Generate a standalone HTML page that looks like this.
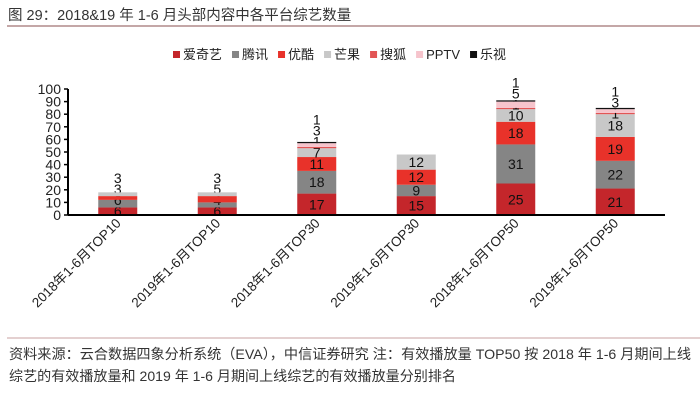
<!DOCTYPE html>
<html><head><meta charset="utf-8"><style>
body{margin:0;width:700px;height:400px;background:#fff;overflow:hidden;font-family:"Liberation Sans","Noto Sans CJK SC",sans-serif}
svg text{font-family:"Liberation Sans","Noto Sans CJK SC",sans-serif}
</style></head><body>
<svg id="c" width="700" height="400">
<text x="8" y="20" font-size="14.5" fill="#333">图 29：2018&amp;19 年 1-6 月头部内容中各平台综艺数量</text>
<line x1="7" y1="26" x2="700" y2="26" stroke="#b08a8a" stroke-width="1.5"/>
<line x1="7" y1="338" x2="700" y2="338" stroke="#c9a0a0" stroke-width="1"/>
<text x="9" y="359" font-size="14" textLength="682" lengthAdjust="spacingAndGlyphs" fill="#333">资料来源：云合数据四象分析系统（EVA），中信证券研究  注：有效播放量 TOP50 按 2018 年 1-6 月期间上线</text>
<text x="9" y="381" font-size="14" textLength="447" lengthAdjust="spacingAndGlyphs" fill="#333">综艺的有效播放量和 2019 年 1-6 月期间上线综艺的有效播放量分别排名</text>
<g id="plot"></g>
</svg>
<script>
const categories=["2018年1-6月TOP10","2019年1-6月TOP10","2018年1-6月TOP30","2019年1-6月TOP30","2018年1-6月TOP50","2019年1-6月TOP50"];
const seriesNames=["爱奇艺","腾讯","优酷","芒果","搜狐","PPTV","乐视"];
const iqiyi=[6,6,17,15,25,21];
const tencent=[6,4,18,9,31,22];
const youku=[3,5,11,12,18,19];
const mango=[3,3,7,12,10,18];
const sohu=[0,0,1,0,1,1];
const pptv=[0,0,3,0,5,3];
const leshi=[0,0,1,0,1,1];
const yTicks=[0,10,20,30,40,50,60,70,80,90,100];
const colors=["#c4262b","#858585","#e8322a","#c8c8c8","#e25555","#f6c4cc","#111"];
const series=[iqiyi,tencent,youku,mango,sohu,pptv,leshi];
const NS="http://www.w3.org/2000/svg";
const g=document.getElementById('plot');
const x0=68,x1=665,yb=215,yt=89;
const y=v=>yb-(v/100)*(yb-yt);
const step=(x1-x0)/categories.length;
const xc=i=>x0+step*(i+0.5);
const bw=39;
function mk(t,a){const e=document.createElementNS(NS,t);for(const k in a)e.setAttribute(k,a[k]);g.appendChild(e);return e;}
let lx=173;
seriesNames.forEach((n,k)=>{
 const r=mk('rect',{x:lx,y:51,width:7,height:7,fill:colors[k]});
 
 
 const t=mk('text',{x:lx+10,y:59,'font-size':13,fill:'#222'});t.textContent=n;
 
 
 lx+=10+t.getComputedTextLength()+10;
});
yTicks.forEach(v=>{
 const l=mk('line',{x1:x0-4,x2:x0,y1:y(v),y2:y(v),stroke:'#000','stroke-width':1.5});
 
 
 const t=mk('text',{x:x0-7,y:y(v)+5,'font-size':14,'text-anchor':'end',fill:'#222'});t.textContent=v;
 
 
});
categories.forEach((c,i)=>{
 let cum=0,lastLabelY=1e9;
 series.forEach((s,k)=>{
  const v=s[i];if(!v)return;
  const top=y(cum+v),bot=y(cum);
  const r=mk('rect',{x:xc(i)-bw/2,y:top,width:bw,height:bot-top,fill:colors[k]});
  
  
  let ly=(top+bot)/2+5;
  if(ly>lastLabelY-11)ly=lastLabelY-11;
  lastLabelY=ly;
  const t=mk('text',{x:xc(i),y:ly,'font-size':14,'text-anchor':'middle',fill:'#111'});t.textContent=v;
  
  
  cum+=v;
 });
 const t=mk('text',{x:0,y:0,'font-size':13.5,'text-anchor':'end',fill:'#222',transform:`translate(${xc(i)+4},${yb+9}) rotate(-45)`});t.textContent=c;
 
 
});
const ya=mk('line',{x1:x0,x2:x0,y1:yt,y2:yb,stroke:'#000','stroke-width':2});


const xa=mk('line',{x1:x0,x2:x1,y1:yb,y2:yb,stroke:'#000','stroke-width':2});


</script>
</body></html>
